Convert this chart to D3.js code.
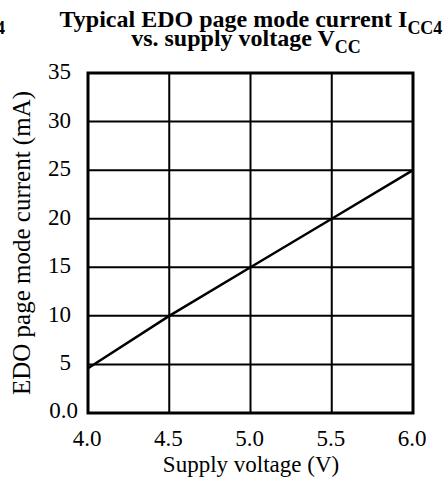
<!DOCTYPE html>
<html>
<head>
<meta charset="utf-8">
<script src="https://cdn.jsdelivr.net/npm/d3@7"></script>
<style>
  html, body { margin: 0; padding: 0; background: #fff; }
  svg { display: block; }
</style>
</head>
<body>
<svg id="chart" width="446" height="483"></svg>
<script>
// Data
const voltage = [4.0, 4.5, 5.0, 5.5, 6.0];
const current = [4.6, 10, 15, 20, 25];
const xTickValues = [4.0, 4.5, 5.0, 5.5, 6.0];
const xTickLabels = ["4.0", "4.5", "5.0", "5.5", "6.0"];
const yTickValues = [0, 5, 10, 15, 20, 25, 30, 35];
const yTickLabels = ["0.0", "5", "10", "15", "20", "25", "30", "35"];
const xTitle = "Supply voltage (V)";
const yTitle = "EDO page mode current (mA)";

const FONT = "'Liberation Serif', 'Times New Roman', Times, 'DejaVu Serif', serif";

const svg = d3.select("#chart").attr("font-family", FONT);
const plot = { left: 88, right: 413, top: 73, bottom: 413 };

const x = d3.scaleLinear().domain([4.0, 6.0]).range([plot.left, plot.right]);
const y = d3.scaleLinear().domain([0, 35]).range([plot.bottom, plot.top]);

// Gridlines
const grid = svg.append("g");
grid.selectAll("line.v").data(xTickValues.slice(1, -1)).enter().append("line")
  .attr("x1", d => x(d)).attr("x2", d => x(d))
  .attr("y1", plot.top).attr("y2", plot.bottom)
  .attr("stroke", "#000").attr("stroke-width", 2);
grid.selectAll("line.h").data(yTickValues.slice(1, -1)).enter().append("line")
  .attr("x1", plot.left).attr("x2", plot.right)
  .attr("y1", d => y(d)).attr("y2", d => y(d))
  .attr("stroke", "#000").attr("stroke-width", 2);

// Frame
svg.append("rect")
  .attr("x", plot.left).attr("y", plot.top)
  .attr("width", plot.right - plot.left).attr("height", plot.bottom - plot.top)
  .attr("fill", "none").attr("stroke", "#000").attr("stroke-width", 3);

// Data line
const line = d3.line().x((d, i) => x(voltage[i])).y(d => y(d));
svg.append("path").datum(current)
  .attr("d", line).attr("fill", "none")
  .attr("stroke", "#000").attr("stroke-width", 2.5);

// Y tick labels
svg.append("g").selectAll("text").data(yTickValues).enter().append("text")
  .attr("font-family", FONT)
  .attr("x", (d, i) => i === 0 ? 78 : 71)
  .attr("y", d => y(d) + (d === 0 ? 5 : 6))
  .attr("text-anchor", "end")
  .attr("font-size", 23)
  .text((d, i) => yTickLabels[i]);

// X tick labels
svg.append("g").selectAll("text").data(xTickValues).enter().append("text")
  .attr("font-family", FONT)
  .attr("x", d => x(d) - 1)
  .attr("y", 446)
  .attr("text-anchor", "middle")
  .attr("font-size", 23)
  .text((d, i) => xTickLabels[i]);

// Axis titles
svg.append("text").attr("font-family", FONT).attr("x", 251).attr("y", 472)
  .attr("text-anchor", "middle").attr("font-size", 23).text(xTitle);
svg.append("text").attr("font-family", FONT)
  .attr("transform", "translate(30,243) rotate(-90)")
  .attr("text-anchor", "middle").attr("font-size", 25).text(yTitle);

// Title
const t1 = svg.append("text").attr("font-family", FONT).attr("x", 251).attr("y", 27)
  .attr("text-anchor", "middle").attr("font-size", 24).attr("font-weight", "bold");
t1.append("tspan").text("Typical EDO page mode current I");
t1.append("tspan").attr("dy", 7).attr("font-size", 18).text("CC4");
const t2 = svg.append("text").attr("font-family", FONT).attr("x", 246).attr("y", 46)
  .attr("text-anchor", "middle").attr("font-size", 24).attr("font-weight", "bold");
t2.append("tspan").text("vs. supply voltage V");
t2.append("tspan").attr("dy", 7).attr("font-size", 18).text("CC");

// Cut-off fragment at the left edge
svg.append("text").attr("font-family", FONT).attr("x", 5).attr("y", 34).attr("text-anchor", "end")
  .attr("font-size", 18).attr("font-weight", "bold").text("4");
</script>
</body>
</html>
